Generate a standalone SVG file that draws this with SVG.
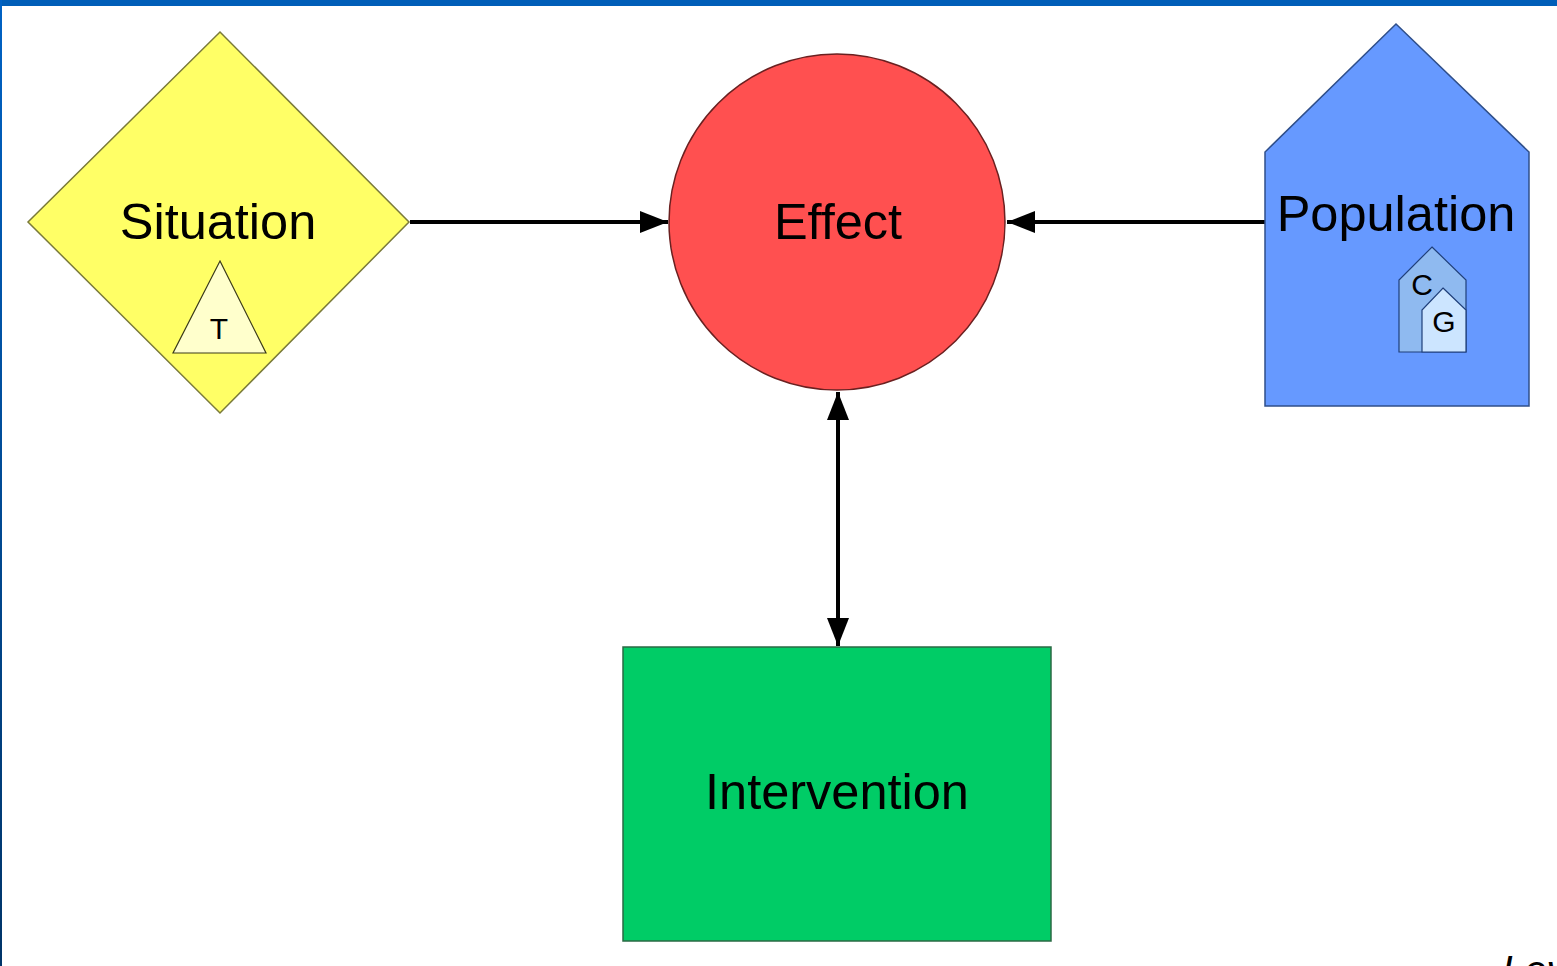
<svg xmlns="http://www.w3.org/2000/svg" width="1557" height="966" viewBox="0 0 1557 966">
  <defs>
    <linearGradient id="sideGrad" x1="0" y1="0" x2="0" y2="1">
      <stop offset="0" stop-color="#0062c4"/>
      <stop offset="1" stop-color="#003468"/>
    </linearGradient>
    <marker id="arrow" viewBox="0 0 28 22" refX="28" refY="11" markerWidth="28" markerHeight="22" markerUnits="userSpaceOnUse" orient="auto-start-reverse">
      <path d="M0,0 L28,11 L0,22 Z" fill="#000"/>
    </marker>
  </defs>
  <style>
    .lbl { font-family: "Liberation Sans", Arial, sans-serif; fill: #000; text-anchor: middle; }
    .big { font-size: 50.5px; }
    .small { font-size: 30px; }
    .conn { stroke: #000; stroke-width: 4; fill: none; }
  </style>

  <rect x="0" y="0" width="1557" height="966" fill="#ffffff"/>
  <rect x="0" y="0" width="1557" height="6" fill="#005eb8"/>
  <rect x="0" y="0" width="2" height="966" fill="url(#sideGrad)"/>

  <g id="connectors">
    <line class="conn" x1="410" y1="222" x2="668" y2="222" marker-end="url(#arrow)"/>
    <line class="conn" x1="1265" y1="222" x2="1007" y2="222" marker-end="url(#arrow)"/>
    <line class="conn" x1="838" y1="392" x2="838" y2="646" marker-start="url(#arrow)" marker-end="url(#arrow)"/>
  </g>

  <g id="situation">
    <polygon points="220,32 409,222 220,413 28,222" fill="#ffff66" stroke="#7a7a3a" stroke-width="1.5"/>
    <text class="lbl big" x="218" y="239">Situation</text>
    <polygon points="220,261 266,353 173,353" fill="#ffffcc" stroke="#3a3a1a" stroke-width="1.2"/>
    <text class="lbl small" x="219" y="339">T</text>
  </g>

  <g id="effect">
    <circle cx="837" cy="222" r="168" fill="#ff5050" stroke="#6a2020" stroke-width="1.5"/>
    <text class="lbl big" x="838" y="239">Effect</text>
  </g>

  <g id="population">
    <polygon points="1396,24 1529,152 1529,406 1265,406 1265,152" fill="#6699ff" stroke="#2f4f8a" stroke-width="1.5"/>
    <text class="lbl big" x="1396" y="231">Population</text>
    <polygon points="1432,247 1466,280 1466,352 1399,352 1399,280" fill="#8fbaf0" stroke="#1f3f7a" stroke-width="1.2"/>
    <text class="lbl small" x="1422" y="295">C</text>
    <polygon points="1443,288 1466,310 1466,352 1422,352 1422,310" fill="#cce5ff" stroke="#1f3f7a" stroke-width="1.2"/>
    <text class="lbl small" x="1444" y="332">G</text>
  </g>

  <g id="intervention">
    <rect x="623" y="647" width="428" height="294" fill="#00cc66" stroke="#2a6a44" stroke-width="1.5"/>
    <text class="lbl big" x="837" y="809">Intervention</text>
  </g>

  <text x="1502" y="984" font-family="Liberation Sans, Arial, sans-serif" font-size="40" font-style="italic" fill="#000">Lev</text>
</svg>
